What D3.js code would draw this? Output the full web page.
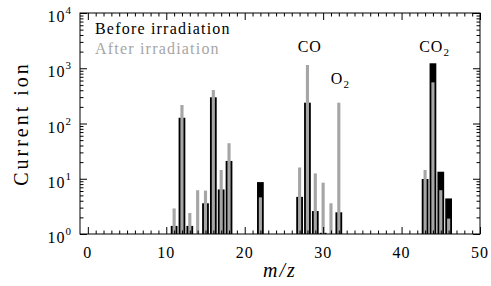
<!DOCTYPE html>
<html>
<head>
<meta charset="utf-8">
<script src="https://cdn.jsdelivr.net/npm/d3@7"></script>
<style>
  body { margin: 0; background: #fff; }
  svg { display: block; }
  text { font-family: "Liberation Serif", serif; fill: #000; }
</style>
</head>
<body>
<script>
// mass peaks, ion current before / after irradiation (null = no signal)
let mz     = [11, 12, 13, 14, 15, 16, 17, 18, 22, 27, 28, 29, 30, 31, 32, 43, 44, 45, 46];
let before = [1.4, 127, 1.4, null, 3.6, 298, 6.4, 21, 8.7, 4.7, 238, 2.6, 1.05, null, 2.47, 9.9, 1230, 13.4, 4.4];
let after  = [2.9, 216, 2.4, 6.2, 6.1, 404, 14.4, 44, 4.6, 16, 1145, 12.5, 8.5, 3.6, 238, 14.4, 556, 6.2, 1.9];

let xTicks = [0, 10, 20, 30, 40, 50];
let yTicks = [0, 1, 2, 3, 4]; // exponents
let peaks = [
    { label: "CO", sub: "", at: 28.3, lvl: 3.29 },
    { label: "O", sub: "2", at: 32.2, lvl: 2.72 },
    { label: "CO", sub: "2", at: 44.2, lvl: 3.29 }
];

let width = 491, height = 286;
let margin = { left: 80, right: 11, top: 13, bottom: 52 };

let svg = d3.select("body").append("svg")
    .attr("width", width)
    .attr("height", height);

let x = d3.scaleLinear().domain([-1, 50]).range([margin.left, width - margin.right]);
let y = d3.scaleLog().domain([1, 1e4]).range([height - margin.bottom, margin.top]);

let gray = "#a6a6a6";
let unit = x(1) - x(0);

// before bars (wide, black)
svg.append("g").selectAll("rect")
    .data(mz.map((m, i) => ({ m: m, v: before[i] })).filter(d => d.v))
    .join("rect")
    .attr("x", d => x(d.m) - unit * 0.43)
    .attr("width", unit * 0.86)
    .attr("y", d => y(d.v))
    .attr("height", d => y(1) - y(d.v))
    .attr("fill", "#000");

// after bars (narrow, gray, on top)
svg.append("g").selectAll("rect")
    .data(mz.map((m, i) => ({ m: m, v: after[i] })).filter(d => d.v))
    .join("rect")
    .attr("x", d => x(d.m) - unit * 0.2)
    .attr("width", unit * 0.4)
    .attr("y", d => y(d.v))
    .attr("height", d => y(1) - y(d.v))
    .attr("fill", gray);

// axes: ticks point inward on all four sides
let minorX = d3.range(0, 51).filter(v => v % 10 != 0);
let minorY = [];
for (let e = 0; e < 4; e++) for (let k = 2; k < 10; k++) minorY.push(k * Math.pow(10, e));
let majorY = yTicks.map(e => Math.pow(10, e));

function axisGroup(axis, tx, ty) {
    let g = svg.append("g").attr("transform", `translate(${tx},${ty})`).call(axis);
    g.select(".domain").remove();
    g.selectAll("line").attr("stroke", "#000").attr("stroke-width", 1);
    return g;
}

let bottomY = y(1), topY = y(1e4), leftX = x(-1), rightX = x(50);

axisGroup(d3.axisBottom(x).tickValues(minorX).tickSize(-3.5).tickFormat(""), 0, bottomY);
axisGroup(d3.axisBottom(x).tickValues(xTicks).tickSize(-7).tickFormat(""), 0, bottomY);
axisGroup(d3.axisTop(x).tickValues(minorX).tickSize(-3.5).tickFormat(""), 0, topY);
axisGroup(d3.axisTop(x).tickValues(xTicks).tickSize(-7).tickFormat(""), 0, topY);
axisGroup(d3.axisLeft(y).tickValues(minorY).tickSize(-3.5).tickFormat(""), leftX, 0);
axisGroup(d3.axisLeft(y).tickValues(majorY).tickSize(-7).tickFormat(""), leftX, 0);
axisGroup(d3.axisRight(y).tickValues(minorY).tickSize(-3.5).tickFormat(""), rightX, 0);
axisGroup(d3.axisRight(y).tickValues(majorY).tickSize(-7).tickFormat(""), rightX, 0);

svg.append("rect")
    .attr("x", leftX).attr("y", topY)
    .attr("width", rightX - leftX).attr("height", bottomY - topY)
    .attr("fill", "none").attr("stroke", "#000").attr("stroke-width", 1);

// x tick labels
svg.append("g").selectAll("text")
    .data(xTicks)
    .join("text")
    .attr("x", d => x(d))
    .attr("y", bottomY + 24)
    .attr("text-anchor", "middle")
    .attr("font-size", 16)
    .attr("letter-spacing", 1)
    .text(d => d);

// y tick labels 10^n
let yl = svg.append("g").selectAll("text")
    .data(yTicks)
    .join("text")
    .attr("x", leftX - 8)
    .attr("y", d => y(Math.pow(10, d)) + 9)
    .attr("text-anchor", "end")
    .attr("font-size", 16)
    .attr("letter-spacing", 1);
yl.append("tspan").text("10");
yl.append("tspan").attr("font-size", 11).attr("dy", -8).text(d => d);

// axis titles
svg.append("text")
    .attr("transform", `translate(28,${(topY + bottomY) / 2}) rotate(-90)`)
    .attr("text-anchor", "middle")
    .attr("font-size", 20)
    .attr("letter-spacing", 3)
    .text("Current ion");

svg.append("text")
    .attr("x", (leftX + rightX) / 2)
    .attr("y", 277)
    .attr("text-anchor", "middle")
    .attr("font-size", 20)
    .attr("letter-spacing", 2)
    .attr("font-style", "italic")
    .text("m/z");

// legend
svg.append("text").attr("x", 95).attr("y", 34).attr("font-size", 16)
    .attr("letter-spacing", 1.2).text("Before irradiation");
svg.append("text").attr("x", 95).attr("y", 54).attr("font-size", 16)
    .attr("letter-spacing", 1.2).style("fill", gray).text("After irradiation");

// peak labels
let pl = svg.append("g").selectAll("text")
    .data(peaks)
    .join("text")
    .attr("x", d => x(d.at))
    .attr("y", d => y(Math.pow(10, d.lvl)))
    .attr("text-anchor", "middle")
    .attr("font-size", 16)
    .attr("letter-spacing", 1);
pl.append("tspan").text(d => d.label);
pl.append("tspan").attr("font-size", 11).attr("dy", 4).text(d => d.sub);
</script>
</body>
</html>
